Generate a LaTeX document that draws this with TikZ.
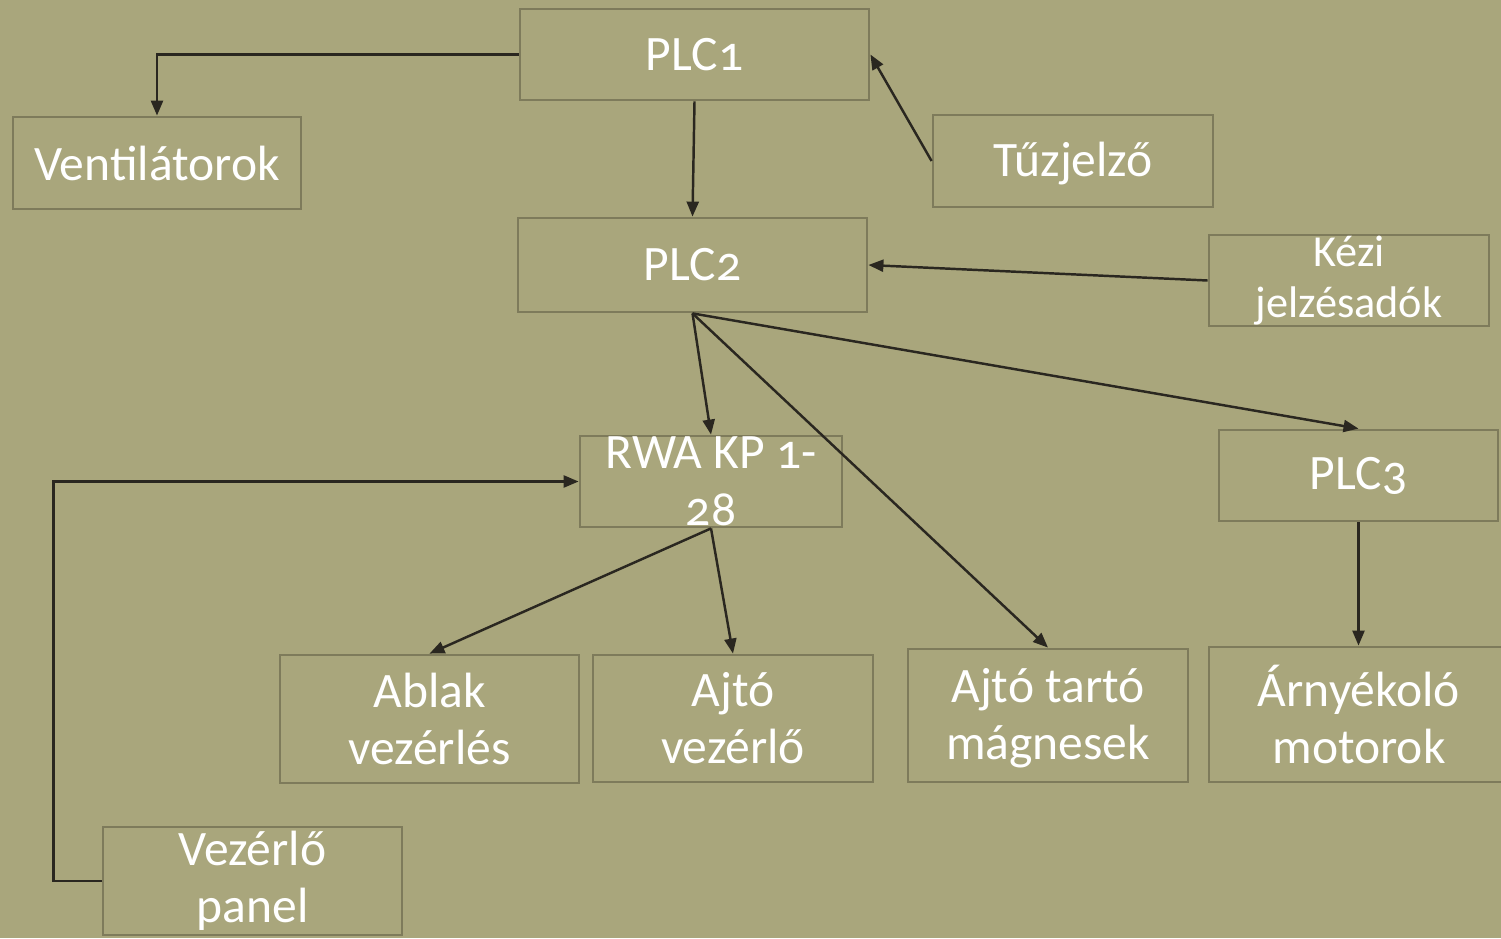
\documentclass[tikz,border=0pt]{standalone}
\usepackage{fontspec}
\setmainfont[Numbers=OldStyle]{Carlito}
\usetikzlibrary{arrows.meta}

\definecolor{olivebg}{RGB}{169,166,124}
\definecolor{boxline}{RGB}{126,123,91}
\definecolor{wire}{RGB}{42,39,32}

\begin{document}
\begin{tikzpicture}[
    box/.style={draw=boxline, line width=0.8pt, inner sep=0pt},
    lbl/.style={text=white, align=center, inner sep=0pt,
      font=\fontsize{14.1}{16.2}\selectfont},
    smalllbl/.style={lbl, font=\fontsize{12.6}{14.5}\selectfont},
    wired/.style={draw=wire, line width=0.7pt,
      -{Triangle[length=0.15cm,width=0.12cm]}}
  ]
  \fill[olivebg] (0,0) rectangle (15.01,-9.38);
  \useasboundingbox (0,0) rectangle (15.01,-9.38);

  % boxes
  \node[box, minimum width=3.49cm, minimum height=0.91cm] (plc1) at (6.945,-0.545) {};
  \node[box, minimum width=2.88cm, minimum height=0.92cm] (vent) at (1.57,-1.63) {};
  \node[box, minimum width=2.80cm, minimum height=0.92cm] (tuz) at (10.73,-1.61) {};
  \node[box, minimum width=3.49cm, minimum height=0.94cm] (plc2) at (6.925,-2.65) {};
  \node[box, minimum width=2.80cm, minimum height=0.91cm] (kezi) at (13.49,-2.805) {};
  \node[box, minimum width=2.62cm, minimum height=0.91cm] (rwa) at (7.11,-4.815) {};
  \node[box, minimum width=2.79cm, minimum height=0.91cm] (plc3) at (13.585,-4.755) {};
  \node[box, minimum width=2.99cm, minimum height=1.28cm] (ablak) at (4.295,-7.19) {};
  \node[box, minimum width=2.80cm, minimum height=1.27cm] (ajto) at (7.33,-7.185) {};
  \node[box, minimum width=2.80cm, minimum height=1.33cm] (tarto) at (10.48,-7.155) {};
  \node[box, minimum width=3.00cm, minimum height=1.35cm] (arny) at (13.59,-7.145) {};
  \node[box, minimum width=2.99cm, minimum height=1.08cm] (panel) at (2.525,-8.81) {};

  % texts
  \node[lbl] (plc1t) at (plc1) {PLC1};
  \node[lbl] (ventt) at (vent) {Ventilátorok};
  \node[lbl] (tuzt) at ([yshift=-0.03cm]tuz.center) {Tűzjelző};
  \node[lbl] (plc2t) at (plc2) {PLC2};
  \node[smalllbl] (kezit) at (kezi) {Kézi\\jelzésadók};
  \node[lbl] (rwat) at (rwa) {RWA KP 1-\\28};
  \node[lbl] (plc3t) at (plc3) {PLC3};
  \node[lbl] (ablakt) at (ablak) {Ablak\\vezérlés};
  \node[lbl] (ajtot) at (ajto) {Ajtó\\vezérlő};
  \node[lbl] (tartot) at ([yshift=-0.03cm]tarto.center) {Ajtó tartó\\mágnesek};
  \node[lbl] (arnyt) at (arny) {Árnyékoló\\motorok};
  \node[lbl] (panelt) at (panel) {Vezérlő\\panel};

  % connectors
  \draw[wired] (plc1.west) -| (vent.north);
  \draw[wired] (plc1.south) -- (plc2.north);
  \draw[wired] (tuz.west) -- (plc1.east);
  \draw[wired] (kezi.west) -- (plc2.east);
  \draw[wired] (plc2.south) -- (rwa.north);
  \draw[wired] (plc2.south) -- (tarto.north);
  \draw[wired] (plc2.south) -- (plc3.north);
  \draw[wired] (rwa.south) -- (ablak.north);
  \draw[wired] (rwa.south) -- (ajto.north);
  \draw[wired] (plc3.south) -- (plc3.south |- arny.north);
  \draw[wired] (panel.west) -- ++(-0.48,0) |- (rwa.west);
\end{tikzpicture}
\end{document}
